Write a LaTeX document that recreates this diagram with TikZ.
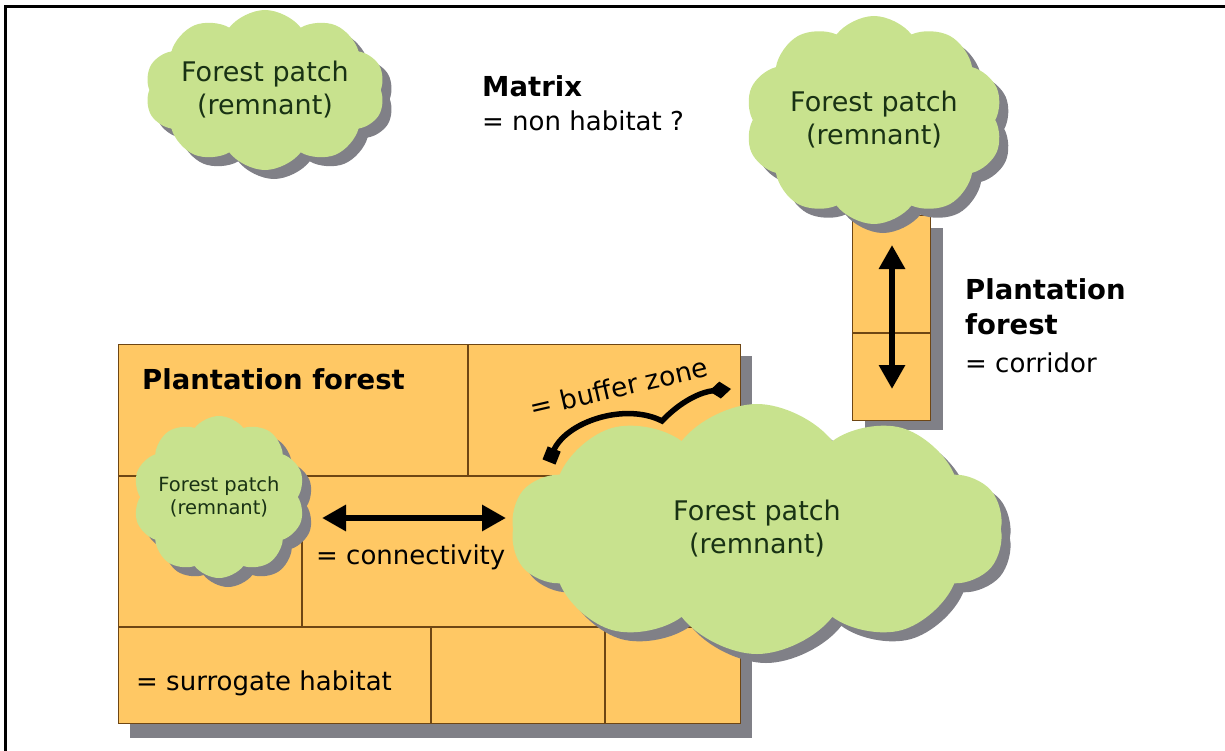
\documentclass[tikz,border=0pt]{standalone}
\usepackage{fontspec}
\setmainfont{DejaVu Sans}
\usetikzlibrary{shapes.symbols,shadows,arrows.meta}
\definecolor{leaf}{RGB}{200,226,142}
\definecolor{plant}{RGB}{255,200,100}
\definecolor{seam}{RGB}{110,70,20}
\definecolor{shadowgrey}{RGB}{128,128,135}
\definecolor{cloudtext}{RGB}{25,50,20}
\tikzset{
  patch/.style={cloud, cloud puffs=10, cloud puff arc=105, cloud ignores aspect, fill=leaf, draw=none,
    text=cloudtext, align=center, inner sep=0pt,
    drop shadow={shadow xshift=9pt, shadow yshift=-9pt, fill=shadowgrey, opacity=1}},
  bigtxt/.style={font=\fontsize{27}{33}\selectfont},
  smalltxt/.style={font=\fontsize{19.5}{23}\selectfont},
  boldlbl/.style={font=\fontsize{27.5}{35}\selectfont\bfseries, anchor=west, align=left, inner sep=0pt},
  lbl/.style={font=\fontsize{26}{33}\selectfont, anchor=west, align=left, inner sep=0pt},
  seamline/.style={draw=seam, line width=1.3pt},
  fatarrow/.style={line width=6.5pt, {Triangle[width=25pt,length=24pt]}-{Triangle[width=25pt,length=24pt]}},
  bufferarrow/.style={line width=5.5pt, {Square[length=14pt,width=14pt]}-{Diamond[length=22pt,width=17pt]}}
}
\begin{document}
\begin{tikzpicture}[x=1pt,y=-1pt]
\useasboundingbox (0,0) rectangle (1225,751);
% frame (top and left only)
\draw[line width=3pt] (5,752) -- (5,7) -- (1226,7);

% plantation block
\fill[shadowgrey] (130,356) rectangle (752,738);
\node[fill=plant, draw=seam, line width=1.3pt, minimum width=622pt, minimum height=379pt, inner sep=0pt, anchor=north west] (block) at (118,344) {};
\draw[seamline] (118,476) -- (740,476);
\draw[seamline] (118,627) -- (740,627);
\draw[seamline] (468,344) -- (468,476);
\draw[seamline] (302,476) -- (302,627);
\draw[seamline] (431,627) -- (431,723);
\draw[seamline] (605,627) -- (605,723);

% corridor
\fill[shadowgrey] (865,228) rectangle (943,430);
\node[fill=plant, draw=seam, line width=1pt, minimum width=78pt, minimum height=205pt, inner sep=0pt, anchor=north west] (corridor) at (852,215) {};
\draw[seamline] (852,333) -- (930,333);

% labels
\node[boldlbl] (plabel) at (142,379) {Plantation forest};
\node[lbl] (surrogate) at (136,683) {= surrogate habitat};
\node[lbl] (connect) at (316,557) {= connectivity};
\node[boldlbl] (matrix) at (482,86) {Matrix};
\node[lbl] (nonhab) at (482,121) {= non habitat ?};
\node[boldlbl] (corrlabel) at (965,307) {Plantation\\forest};
\node[lbl] (corridorlbl) at (965,363) {= corridor};
\node[font=\fontsize{26.5}{30}\selectfont, rotate=13, inner sep=0pt] (buffer) at (619,387) {= buffer zone};

% vertical corridor arrow
\coordinate (va) at (892,245);
\coordinate (vb) at (892,389);
\draw[fatarrow] (va) -- (vb);

% buffer zone arrow
\coordinate (ba) at (549,462);
\coordinate (bm) at (662,421);
\coordinate (bb) at (731,389);
\draw[bufferarrow] (ba) .. controls (565,422) and (625,402) .. (bm) .. controls (680,402) and (700,392) .. (bb);

% forest patches
\node[patch, bigtxt, minimum width=240pt, minimum height=160pt] (tl) at (265,90) {Forest patch\\(remnant)};
\node[patch, bigtxt, minimum width=258pt, minimum height=208pt] (tr) at (874,120) {Forest patch\\(remnant)};
\node[patch, bigtxt, minimum width=492pt, minimum height=250pt] (big) at (757,529) {Forest patch\\(remnant)};
\node[patch, smalltxt, minimum width=172pt, minimum height=162pt] (small) at (219,497) {Forest patch\\(remnant)};

% connectivity arrow
\coordinate (ca) at (322,518);
\coordinate (cb) at (506,518);
\draw[fatarrow] (ca) -- (cb);
\end{tikzpicture}
\end{document}
